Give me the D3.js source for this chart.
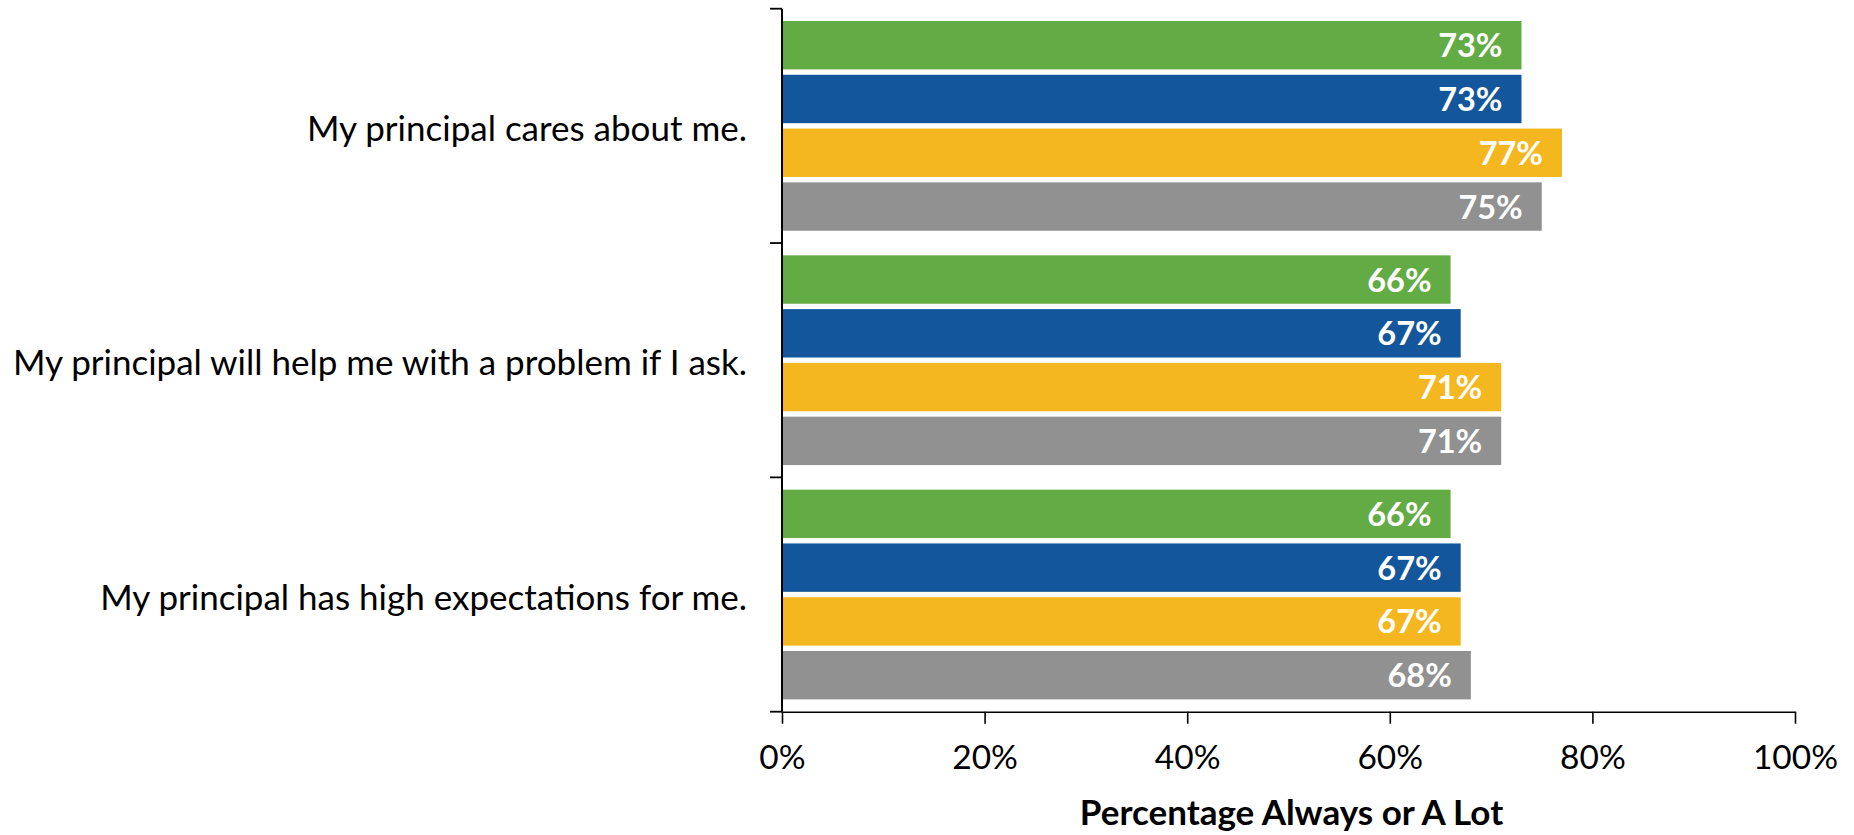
<!DOCTYPE html>
<html>
<head>
<meta charset="utf-8">
<script src="https://cdn.jsdelivr.net/npm/d3@7"></script>
<style>
  html, body { margin: 0; padding: 0; background: #fff; }
  svg { display: block; font-family: Lato, "Open Sans", sans-serif; }
</style>
</head>
<body>
<svg id="chart" width="1854" height="835"></svg>
<script>
// ---- data ----
const categories = [
  "My principal cares about me.",
  "My principal will help me with a problem if I ask.",
  "My principal has high expectations for me."
];
const seriesNames = ["Series 1", "Series 2", "Series 3", "Series 4"];
const series1 = [73, 66, 66];
const series2 = [73, 67, 67];
const series3 = [77, 71, 67];
const series4 = [75, 71, 68];
const xTicks = [0, 20, 40, 60, 80, 100];
const xTitle = "Percentage Always or A Lot";
const colors = ["#63AC45", "#13569B", "#F4B71F", "#919191"];

const seriesValues = [series1, series2, series3, series4];

// ---- layout ----
const mLeft = 782, mRight = 1795, mTop = 8.7, mBottom = 711.7;
const svg = d3.select("#chart");

const x = d3.scaleLinear().domain([0, 100]).range([mLeft, mRight]);
const y0 = d3.scaleBand().domain(categories).range([mTop, mBottom]).padding(0);
const pad = 12.3;
const y1 = d3.scaleBand().domain(seriesNames)
  .range([pad, y0.bandwidth() - pad]).paddingInner(0.1).paddingOuter(0);

const rows = [];
categories.forEach((c, ci) => {
  seriesNames.forEach((s, si) => {
    rows.push({ cat: c, series: s, si, value: seriesValues[si][ci] });
  });
});

// bars
const g = svg.append("g");
g.selectAll("rect").data(rows).enter().append("rect")
  .attr("x", x(0))
  .attr("y", d => y0(d.cat) + y1(d.series))
  .attr("width", d => x(d.value) - x(0))
  .attr("height", y1.bandwidth())
  .attr("fill", d => colors[d.si]);

// value labels
g.selectAll("text.val").data(rows).enter().append("text")
  .attr("class", "val")
  .attr("x", d => x(d.value) - 19)
  .attr("y", d => y0(d.cat) + y1(d.series) + y1.bandwidth() / 2 + 12)
  .attr("text-anchor", "end")
  .attr("fill", "#fff")
  .attr("font-weight", "bold")
  .attr("font-size", "32.5px")
  .text(d => d.value + "%");

// x axis
const xAxis = d3.axisBottom(x).tickValues(xTicks).tickFormat(d => d + "%")
  .tickSize(12).tickSizeOuter(0).tickPadding(22);
const gx = svg.append("g").attr("transform", `translate(0,${mBottom})`).call(xAxis);
gx.select(".domain").attr("stroke", "#000").attr("stroke-width", 1.6);
gx.selectAll(".tick line").attr("stroke", "#000").attr("stroke-width", 1.6);
gx.selectAll(".tick text").attr("fill", "#000").attr("font-size", "33.5px")
  .attr("font-family", "Lato, sans-serif");

// y axis: ticks at category boundaries
const yBoundaries = categories.map(c => y0(c)).concat([mBottom]);
svg.append("line").attr("x1", mLeft).attr("x2", mLeft).attr("y1", mTop).attr("y2", mBottom)
  .attr("stroke", "#000").attr("stroke-width", 2);
svg.selectAll("line.ytick").data(yBoundaries).enter().append("line")
  .attr("class", "ytick")
  .attr("x1", mLeft - 12).attr("x2", mLeft)
  .attr("y1", d => d).attr("y2", d => d)
  .attr("stroke", "#000").attr("stroke-width", 1.8);

// category labels
svg.selectAll("text.cat").data(categories).enter().append("text")
  .attr("class", "cat")
  .attr("x", 747)
  .attr("y", d => y0(d) + y0.bandwidth() / 2 + 15)
  .attr("text-anchor", "end")
  .attr("fill", "#000")
  .attr("font-size", "35px")
  .text(d => d);

// axis title
svg.append("text")
  .attr("x", (mLeft + mRight) / 2 + 3)
  .attr("y", 825)
  .attr("text-anchor", "middle")
  .attr("font-weight", "bold")
  .attr("font-size", "35px")
  .attr("fill", "#000")
  .text(xTitle);
</script>
</body>
</html>
